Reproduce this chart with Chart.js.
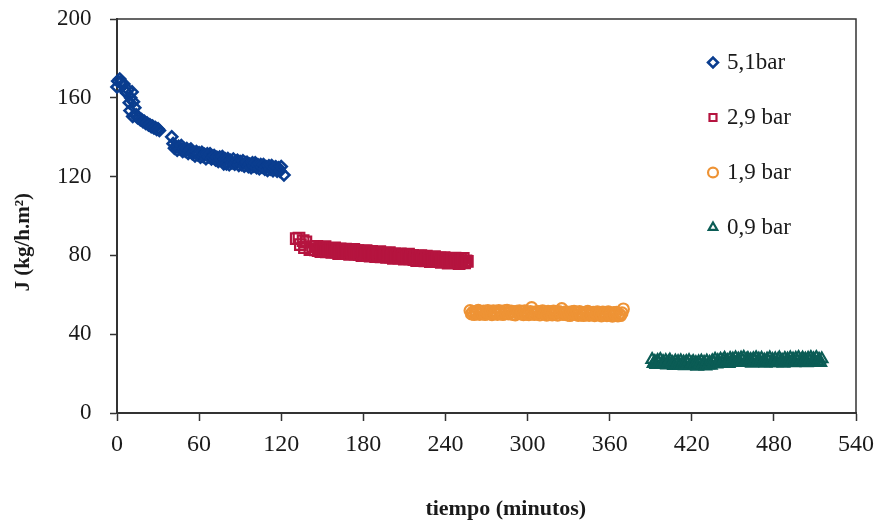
<!DOCTYPE html>
<html>
<head>
<meta charset="utf-8">
<script src="https://cdn.jsdelivr.net/npm/chart.js@4.4.1/dist/chart.umd.min.js"></script>
<style>
html, body { margin: 0; padding: 0; background: #ffffff; }
#wrap { width: 879px; height: 525px; }
</style>
</head>
<body>
<div id="wrap"><canvas id="c" width="879" height="525"></canvas></div>
<script>
// ---- Data ----
const seriesLabels = ['5,1bar', '2,9 bar', '1,9 bar', '0,9 bar'];
const xTicks = [0, 60, 120, 180, 240, 300, 360, 420, 480, 540];
const yTicks = [0, 40, 80, 120, 160, 200];
const xTitle = 'tiempo (minutos)';
const yTitle = 'J (kg/h.m²)';

// 5,1 bar
const blueTime = [
  0, 0.5, 2, 3, 4, 5, 6, 7, 8, 9, 10, 11, 12, 9.5, 11.5, 13,
  14, 15, 16, 17, 18, 19, 20, 21, 22, 23, 24, 25, 26, 27, 28, 29, 30, 31,
  40,
  41, 42, 43, 44, 45, 46, 47, 48, 49, 50,
  51, 52, 53, 54, 55, 56, 57, 58, 59, 60,
  61, 62, 63, 64, 65, 66, 67, 68, 69, 70,
  71, 72, 73, 74, 75, 76, 77, 78, 79, 80,
  81, 82, 83, 84, 85, 86, 87, 88, 89, 90,
  91, 92, 93, 94, 95, 96, 97, 98, 99, 100,
  101, 102, 103, 104, 105, 106, 107, 108, 109, 110,
  111, 112, 113, 114, 115, 116, 117, 118, 119, 120,
  122
];
const blueFlux = [
  165.5, 168.5, 169.5, 168, 166.5, 167, 163.5, 162.5, 164, 157.5, 160, 163, 158, 153.5, 150.5, 155,
  151.3, 149.9, 149.9, 148.9, 148.9, 147.9, 148.1, 147.0, 147.2, 146.2, 146.3, 145.4, 145.6, 144.7, 144.9, 144.0, 144.2, 143.4,
  140.2,
  136.7, 134.4, 135.4, 133.4, 135.4, 134.2, 135.7, 132.8, 134.2, 132.9,
  134.2, 131.8, 133.2, 134.0, 131.6, 132.3, 130.5, 132.7, 131.1, 132.0,
  129.9, 132.3, 130.3, 131.3, 129.1, 131.5, 130.1, 131.6, 129.0, 130.0,
  130.7, 128.5, 129.8, 127.7, 129.9, 128.6, 130.1, 126.5, 129.0, 126.5,
  129.1, 126.1, 128.2, 126.9, 128.9, 126.3, 127.5, 128.3, 125.7, 127.6,
  126.1, 128.0, 125.3, 127.0, 127.3, 125.1, 126.4, 124.5, 127.0, 125.3,
  127.0, 124.6, 126.0, 124.0, 126.1, 124.8, 126.1, 123.8, 125.0, 123.2,
  125.5, 123.8, 125.6, 123.0, 124.4, 125.0, 122.8, 124.4, 122.8, 125.1,
  120.8
];

// 2,9 bar
const redTime = [
  131, 133, 136, 138, 134, 137, 141, 143, 145,
  146, 147, 148, 149, 150, 151, 152, 153, 154, 155,
  156, 157, 158, 159, 160, 161, 162, 163, 164, 165,
  166, 167, 168, 169, 170, 171, 172, 173, 174, 175,
  176, 177, 178, 179, 180, 181, 182, 183, 184, 185,
  186, 187, 188, 189, 190, 191, 192, 193, 194, 195,
  196, 197, 198, 199, 200, 201, 202, 203, 204, 205,
  206, 207, 208, 209, 210, 211, 212, 213, 214, 215,
  216, 217, 218, 219, 220, 221, 222, 223, 224, 225,
  226, 227, 228, 229, 230, 231, 232, 233, 234, 235,
  236, 237, 238, 239, 240, 241, 242, 243, 244, 245,
  246, 247, 248, 249, 250, 251, 252, 253, 254, 255, 256
];
const redFlux = [
  88.5, 88.8, 87.5, 86.8, 85.5, 84.0, 83.0, 84.5, 82.8,
  84.6, 82.4, 83.6, 81.9, 83.9, 82.9, 84.4, 81.8, 83.4, 82.2,
  83.6, 81.5, 83.0, 83.8, 81.7, 82.5, 80.9, 83.3, 81.8, 82.8,
  81.0, 83.2, 81.4, 82.5, 80.5, 82.7, 81.6, 83.0, 80.7, 81.7,
  82.4, 80.4, 81.8, 79.9, 82.1, 80.8, 82.4, 80.3, 81.6, 79.7,
  82.0, 79.9, 81.0, 79.4, 81.4, 80.3, 81.9, 79.3, 80.9, 79.7,
  81.1, 79.0, 80.5, 81.4, 79.2, 80.0, 78.5, 80.8, 79.4, 80.4,
  78.6, 80.8, 79.0, 80.1, 78.1, 80.3, 79.2, 80.6, 78.2, 79.3,
  80.0, 77.9, 79.4, 77.4, 79.6, 78.4, 79.9, 77.8, 79.1, 77.2,
  79.6, 77.4, 78.5, 76.9, 78.9, 77.8, 79.4, 76.8, 78.3, 77.2,
  78.7, 76.5, 78.1, 78.9, 76.8, 77.7, 76.1, 78.5, 77.1, 78.1,
  76.3, 78.6, 76.8, 77.9, 75.9, 78.2, 77.1, 78.5, 76.2, 77.2, 77.0
];

// 1,9 bar
const orangeTime = [
  258, 259, 260, 261, 262, 263, 264, 265, 266, 267,
  268, 269, 270, 271, 272, 273, 274, 275, 276, 277,
  278, 279, 280, 281, 282, 283, 284, 285, 286, 287,
  288, 289, 290, 291, 292, 293, 294, 295, 296, 297,
  298, 299, 300, 301, 302, 303, 304, 305, 306, 307,
  308, 309, 310, 311, 312, 313, 314, 315, 316, 317,
  318, 319, 320, 321, 322, 323, 324, 325, 326, 327,
  328, 329, 330, 331, 332, 333, 334, 335, 336, 337,
  338, 339, 340, 341, 342, 343, 344, 345, 346, 347,
  348, 349, 350, 351, 352, 353, 354, 355, 356, 357,
  358, 359, 360, 361, 362, 363, 364, 365, 366, 367, 368, 369, 370
];
const orangeFlux = [
  52.0, 50.3, 51.2, 50.0, 51.6, 50.8, 52.1, 50.1, 51.4, 50.5,
  51.7, 50.0, 51.3, 52.0, 50.4, 51.1, 49.9, 51.8, 50.7, 51.6,
  50.1, 52.0, 50.6, 51.5, 50.0, 51.8, 50.9, 52.1, 50.3, 51.2,
  51.7, 50.1, 51.3, 49.8, 51.6, 50.7, 51.9, 50.3, 51.4, 49.9,
  51.9, 50.2, 51.1, 49.9, 51.5, 53.5, 50.7, 50.0, 51.3, 50.4,
  51.5, 49.8, 51.1, 51.8, 50.2, 50.9, 49.7, 51.6, 50.5, 51.4,
  49.8, 51.7, 50.3, 51.2, 49.7, 51.5, 50.6, 53.0, 50.0, 50.9,
  51.4, 49.8, 51.0, 49.5, 51.3, 50.4, 51.6, 50.0, 51.1, 49.6,
  51.5, 49.8, 50.7, 49.5, 51.1, 50.3, 51.6, 49.6, 50.9, 50.0,
  51.1, 49.4, 50.7, 51.4, 49.8, 50.5, 49.3, 51.2, 50.1, 51.0,
  49.4, 51.3, 49.8, 50.7, 49.2, 51.0, 50.0, 51.1, 49.3, 50.2, 49.5, 50.8, 52.8
];

// 0,9 bar
const greenTime = [
  391, 392, 393, 394, 395, 396, 397, 398, 399, 400,
  401, 402, 403, 404, 405, 406, 407, 408, 409, 410,
  411, 412, 413, 414, 415, 416, 417, 418, 419, 420,
  421, 422, 423, 424, 425, 426, 427, 428, 429, 430,
  431, 432, 433, 434, 435, 436, 437, 438, 439, 440,
  441, 442, 443, 444, 445, 446, 447, 448, 449, 450,
  451, 452, 453, 454, 455, 456, 457, 458, 459, 460,
  461, 462, 463, 464, 465, 466, 467, 468, 469, 470,
  471, 472, 473, 474, 475, 476, 477, 478, 479, 480,
  481, 482, 483, 484, 485, 486, 487, 488, 489, 490,
  491, 492, 493, 494, 495, 496, 497, 498, 499, 500,
  501, 502, 503, 504, 505, 506, 507, 508, 509, 510,
  511, 512, 513, 514, 515
];
const greenFlux = [
  27.1, 25.0, 26.1, 24.5, 26.6, 25.5, 27.1, 24.6, 26.1, 25.0,
  26.5, 24.3, 25.9, 26.8, 24.6, 25.5, 24.0, 26.3, 24.9, 26.0,
  24.2, 26.4, 24.7, 25.8, 23.9, 26.1, 25.0, 26.5, 24.2, 25.3,
  26.1, 24.0, 25.5, 23.6, 25.9, 24.7, 26.3, 24.3, 25.6, 23.8,
  26.3, 24.3, 25.6, 24.1, 26.4, 25.5, 27.2, 24.8, 26.5, 25.6,
  27.2, 25.1, 26.8, 27.7, 25.7, 26.6, 25.1, 27.6, 26.2, 27.3,
  25.5, 27.9, 26.2, 27.3, 25.5, 27.8, 26.7, 28.2, 26.0, 27.1,
  27.6, 25.6, 27.1, 25.2, 27.5, 26.4, 28.0, 26.0, 27.3, 25.5,
  27.7, 25.6, 26.8, 25.2, 27.3, 26.3, 27.9, 25.4, 27.0, 25.9,
  27.4, 25.4, 27.0, 27.9, 25.8, 26.7, 25.2, 27.6, 26.2, 27.3,
  25.6, 27.9, 26.2, 27.3, 25.4, 27.7, 26.6, 28.1, 25.8, 26.9,
  27.8, 25.8, 27.3, 25.4, 27.7, 26.5, 28.1, 26.1, 27.4, 25.6,
  28.1, 26.0, 27.2, 25.6, 27.4
];

// ---- Chart ----
const FONT = "'Liberation Serif', 'Times New Roman', serif";
const pts = (t, j) => t.map((v, i) => ({ x: v, y: j[i] }));

const framePlugin = {
  id: 'frame',
  beforeDatasetsDraw(chart) {
    const { ctx, chartArea: a } = chart;
    ctx.save();
    ctx.strokeStyle = '#333333';
    ctx.lineWidth = 1.5;
    ctx.beginPath();
    ctx.moveTo(a.left, a.top);
    ctx.lineTo(a.right, a.top);
    ctx.lineTo(a.right, a.bottom);
    ctx.stroke();
    ctx.restore();
  }
};

const legendPlace = {
  id: 'legendPlace',
  afterLayout(chart) {
    const lg = chart.legend;
    if (!lg) return;
    const a = chart.chartArea;
    const w = lg.width;
    lg.left = a.right - 177.5;
    lg.right = lg.left + w;
    lg.top = a.top;
    lg.bottom = a.bottom;
  }
};

const mk = (label, data, color, style, r, bw) => ({
  label, data,
  showLine: false,
  pointStyle: style,
  pointRadius: r,
  pointHoverRadius: r,
  pointBorderWidth: bw,
  borderWidth: 2,
  borderColor: color,
  backgroundColor: 'rgba(255,255,255,0)',
  pointBackgroundColor: 'rgba(255,255,255,0)',
  clip: 12
});

new Chart(document.getElementById('c'), {
  type: 'scatter',
  data: {
    datasets: [
      mk(seriesLabels[0], pts(blueTime, blueFlux), '#0a3d8f', 'rectRot', 5.5, 2.6),
      mk(seriesLabels[1], pts(redTime, redFlux), '#b5143f', 'rect', 7.5, 2.2),
      mk(seriesLabels[2], pts(orangeTime, orangeFlux), '#ee9335', 'circle', 5.5, 2.2),
      mk(seriesLabels[3], pts(greenTime, greenFlux), '#0b5c55', 'triangle', 6.5, 2.2)
    ]
  },
  options: {
    responsive: false,
    animation: false,
    devicePixelRatio: 1,
    layout: { autoPadding: false, padding: { left: 0, top: 19, right: 23, bottom: 0 } },
    plugins: {
      tooltip: { enabled: false },
      legend: {
        position: 'chartArea',
        align: 'start',
        labels: {
          usePointStyle: true,
          boxWidth: 5,
          boxHeight: 7,
          padding: 32,
          color: '#1a1a1a',
          font: { family: FONT, size: 23 }
        }
      }
    },
    scales: {
      x: {
        type: 'linear',
        min: xTicks[0],
        max: xTicks[xTicks.length - 1],
        afterBuildTicks: s => { s.ticks = xTicks.map(v => ({ value: v })); },
        afterFit: s => { s.height = 112; },
        grid: { display: true, drawOnChartArea: false, drawTicks: true, tickLength: 8, tickColor: '#333333', tickWidth: 1.5 },
        border: { display: true, color: '#333333', width: 2 },
        ticks: { autoSkip: false, maxRotation: 0, padding: 5, color: '#1a1a1a', font: { family: FONT, size: 24, lineHeight: 1.6 } },
        title: { display: true, text: '       ' + xTitle, color: '#1a1a1a', padding: { top: 0, bottom: 2 }, font: { family: FONT, size: 22, weight: 'bold' } }
      },
      y: {
        type: 'linear',
        min: yTicks[0],
        max: yTicks[yTicks.length - 1],
        afterBuildTicks: s => { s.ticks = yTicks.map(v => ({ value: v })); },
        afterFit: s => { s.width = 117; },
        grid: { display: true, drawOnChartArea: false, drawTicks: true, tickLength: 7, tickColor: '#333333', tickWidth: 1.5 },
        border: { display: true, color: '#333333', width: 2 },
        ticks: { padding: 7, color: '#1a1a1a', font: { family: FONT, size: 23, lineHeight: 1.0 }, callback: v => v + '\u00a0\u00a0' },
        title: { display: true, text: yTitle + '          ', color: '#1a1a1a', padding: { top: 11, bottom: 0 }, font: { family: FONT, size: 21, weight: 'bold' } }
      }
    }
  },
  plugins: [framePlugin, legendPlace]
});
</script>
</body>
</html>
